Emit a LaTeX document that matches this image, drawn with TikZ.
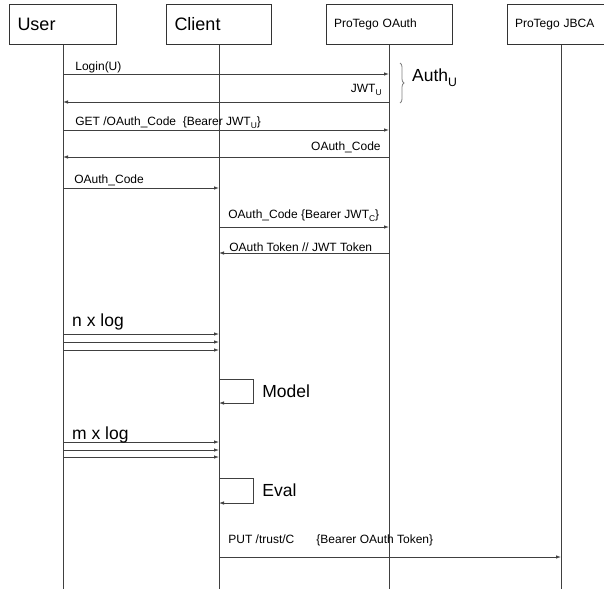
\documentclass[tikz,border=0pt]{standalone}
\usepackage{fontspec}
\setmainfont{Liberation Sans}
\usetikzlibrary{arrows.meta,decorations.pathreplacing}

\newcommand{\lowsub}[1]{\raisebox{-0.55ex}{\fontsize{0.7em}{1em}\selectfont #1}}

\begin{document}
\begin{tikzpicture}[x=1pt, y=-1pt,
        actor/.style={draw=black!80, line width=0.8pt, anchor=north, minimum height=40pt,
            inner xsep=8pt, text width=#1, align=left},
        msg/.style={draw=black!75, line width=0.8pt, -{Latex[length=5pt,width=3.5pt]}},
        lbl/.style={font=\fontsize{12}{14}\selectfont, inner sep=0pt},
        biglbl/.style={font=\fontsize{17.5}{20}\selectfont, inner sep=0pt}]
        \useasboundingbox (0,0) rectangle (604,589);

        \node[actor=91pt, font=\fontsize{18}{20}\selectfont] (user) at (63,4) {User};
        \node[actor=89pt, font=\fontsize{18}{20}\selectfont] (client) at (219,4) {Client};
        \node[actor=110pt, font=\fontsize{12}{14}\selectfont] (oauth) at (389,4) {ProTego OAuth};
        \node[actor=92pt, font=\fontsize{12}{14}\selectfont] (jbca) at (561,4) {ProTego JBCA};

        \foreach \n in {user, client, oauth, jbca} {
            \draw[black!75, line width=0.8pt] (\n.south) -- (\n.south |- 0,589);
        }

        \draw[msg] (user |- 0,74) -- (oauth |- 0,74) node[lbl, anchor=base west, pos=0, xshift=12pt, yshift=4pt] {Login(U)};
        \draw[msg] (oauth |- 0,102) -- (user |- 0,102) node[lbl, anchor=base east, pos=0, xshift=-7pt, yshift=10pt] {JWT\lowsub{U}};
        \draw[msg] (user |- 0,130) -- (oauth |- 0,130) node[lbl, anchor=base west, pos=0, xshift=12pt, yshift=5pt] {GET /OAuth\_Code\ \ \{Bearer JWT\lowsub{U}\}};
        \draw[msg] (oauth |- 0,157) -- (user |- 0,157) node[lbl, anchor=base east, pos=0, xshift=-8pt, yshift=7pt] {OAuth\_Code};

        \draw[gray, line width=0.8pt, decorate, decoration={brace, amplitude=4pt}] ([xshift=11pt]oauth |- 0,63) -- ([xshift=11pt]oauth |- 0,103);
        \node[biglbl, anchor=base west] (auth) at ([xshift=23pt]oauth |- 0,81) {Auth\lowsub{U}};

        \draw[msg] (user |- 0,188) -- (client |- 0,188) node[lbl, anchor=base west, pos=0, xshift=11pt, yshift=5pt] {OAuth\_Code};
        \draw[msg] (client |- 0,227) -- (oauth |- 0,227) node[lbl, anchor=base west, pos=0, xshift=9pt, yshift=9pt] {OAuth\_Code \{Bearer JWT\lowsub{C}\}};
        \draw[msg] (oauth |- 0,253) -- (client |- 0,253) node[lbl, anchor=base west, pos=1, xshift=10pt, yshift=2pt] {OAuth Token // JWT Token};

        % n x log
        \foreach \y in {334, 342, 350} {
            \draw[msg] (user |- 0,\y) -- (client |- 0,\y);
        }
        \node[biglbl, anchor=base west] (nlog) at ([xshift=9pt, yshift=8pt]user |- 0,334) {n x log};

        \draw[msg] (client |- 0,379) -- ++(34,0) -- ++(0,24) node[biglbl, midway, right, xshift=9pt] (model) {Model} -- (client |- 0,403);

        % m x log
        \foreach \y in {442, 450, 457} {
            \draw[msg] (user |- 0,\y) -- (client |- 0,\y);
        }
        \node[biglbl, anchor=base west] (mlog) at ([xshift=9pt, yshift=3pt]user |- 0,442) {m x log};

        \draw[msg] (client |- 0,478) -- ++(34,0) -- ++(0,25) node[biglbl, midway, right, xshift=9pt] (eval) {Eval} -- (client |- 0,503);

        \draw[msg] (client |- 0,557) -- (jbca |- 0,557) node[lbl, anchor=base west, pos=0, xshift=9pt, yshift=14pt] {PUT /trust/C\hspace{22pt}\{Bearer OAuth Token\}};
    \end{tikzpicture}
\end{document}
